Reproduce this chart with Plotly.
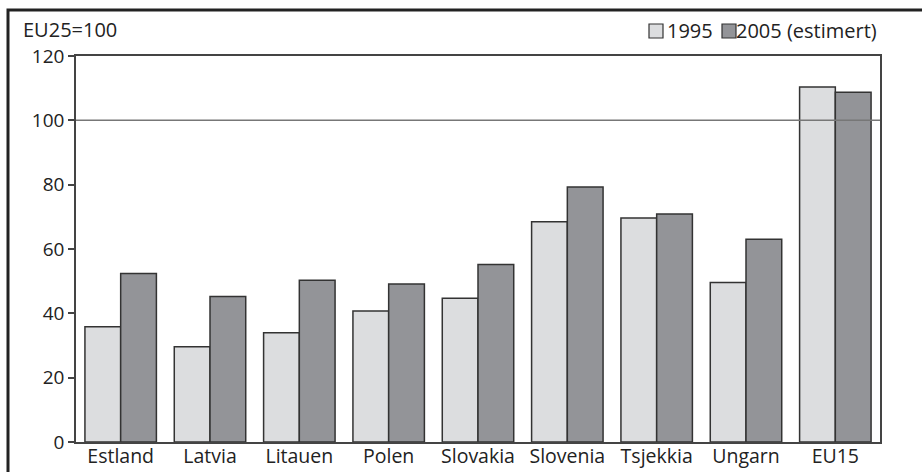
import plotly.graph_objects as go

countries = ['Estland', 'Latvia', 'Litauen', 'Polen', 'Slovakia',
             'Slovenia', 'Tsjekkia', 'Ungarn', 'EU15']
v1995 = [35.8, 29.6, 34.0, 40.7, 44.7, 68.5, 69.6, 49.6, 110.4]
v2005 = [52.4, 45.2, 50.3, 49.1, 55.2, 79.3, 70.9, 63.0, 108.7]
ytick_vals = [0, 20, 40, 60, 80, 100, 120]

FONT = 'Open Sans'
INK = '#222222'
C1995 = '#dcdddf'
C2005 = '#939498'

fig = go.Figure()
fig.add_trace(go.Bar(x=countries, y=v1995, name='1995',
                     marker=dict(color=C1995, line=dict(color='#333333', width=1.5))))
fig.add_trace(go.Bar(x=countries, y=v2005, name='2005 (estimert)',
                     marker=dict(color=C2005, line=dict(color='#333333', width=1.5))))

W, H = 922, 472
ml, mr, mt, mb = 76, 42, 56, 30
pw, ph = W - ml - mr, H - mt - mb


def px_x(x):  # pixel -> paper
    return (x - ml) / pw


def px_y(y):
    return 1 - (y - mt) / ph


fig.update_layout(
    width=W, height=H,
    margin=dict(l=ml, r=mr, t=mt, b=mb),
    paper_bgcolor='white', plot_bgcolor='white',
    barmode='group', bargap=0.2, bargroupgap=0,
    showlegend=False,
    font=dict(family=FONT, size=20, color=INK),
)
fig.update_xaxes(showline=True, linecolor='#444444', linewidth=1.5, mirror=True,
                 ticks='', tickfont=dict(size=19.5), range=[-0.5, 8.5], automargin=False,
                 ticklabelstandoff=-4)
fig.update_yaxes(range=[0, 120], tickvals=ytick_vals, showgrid=False, zeroline=False,
                 showline=True, linecolor='#444444', linewidth=1.5, mirror=True,
                 ticks='outside', ticklen=6, tickcolor='#444444', tickwidth=1.5,
                 tickfont=dict(size=19), automargin=False)

# reference line at 100
fig.add_shape(type='line', xref='paper', yref='y', x0=0, x1=1, y0=100, y1=100,
              line=dict(color='#777777', width=1.5), layer='above')

# outer frame
fig.add_shape(type='rect', xref='paper', yref='paper',
              x0=px_x(8), x1=px_x(940), y0=px_y(490), y1=px_y(10),
              line=dict(color='#222222', width=3))

fig.add_annotation(text='EU25=100', xref='paper', yref='paper',
                   x=px_x(21), y=px_y(30), xanchor='left', yanchor='middle',
                   showarrow=False, font=dict(size=20))

# legend
fig.add_annotation(text='2005 (estimert)', xref='paper', yref='paper',
                   x=px_x(879), y=px_y(31), xanchor='right', yanchor='middle',
                   showarrow=False, font=dict(size=20))
legend = [('1995', C1995, 649), ('2005 (estimert)', C2005, 722)]
for label, col, x0 in legend:
    fig.add_shape(type='rect', xref='paper', yref='paper',
                  x0=px_x(x0), x1=px_x(x0 + 14), y0=px_y(38), y1=px_y(24),
                  line=dict(color='#333333', width=1.2), fillcolor=col)
fig.add_annotation(text='1995', xref='paper', yref='paper',
                   x=px_x(649 + 16), y=px_y(31), xanchor='left', yanchor='middle',
                   showarrow=False, font=dict(size=20))

fig.write_html('out.html', config={'displayModeBar': False},
               post_script="document.body.style.margin='0';")
